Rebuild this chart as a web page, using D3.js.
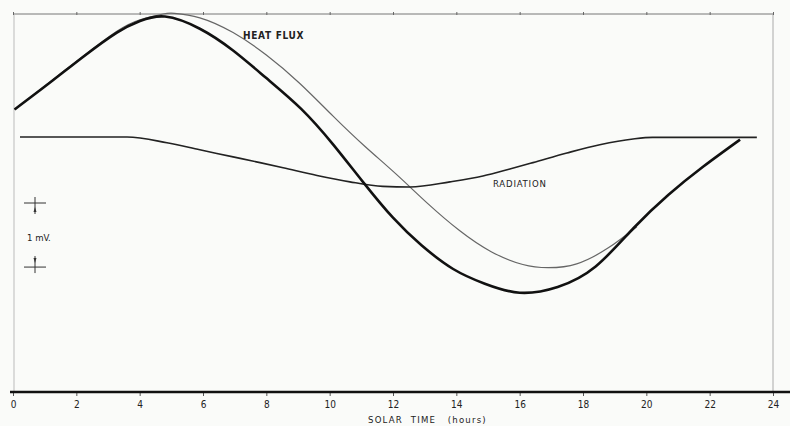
<!DOCTYPE html>
<html><head><meta charset="utf-8">
<script src="https://cdn.jsdelivr.net/npm/d3@7"></script>
<style>
html,body{margin:0;padding:0;background:#fafbf9;}
svg{display:block;}
text{font-family:"DejaVu Sans Condensed","DejaVu Sans",sans-serif;fill:#222;}
</style></head>
<body>
<script>
// X axis ticks (solar time, hours)
const xTicks = [0,2,4,6,8,10,12,14,16,18,20,22,24];
// Thick heat-flux trace: [hour, mV above baseline]
const heatFluxHours = [0.05,1.17,2.21,3.28,4.01,4.80,5.90,6.95,8.0,9.10,10.10,11.05,12.00,12.90,13.90,14.90,16.0,17.20,18.40,19.60,20.70,21.80,22.96];
const heatFluxMV   = [4.41,4.83,5.23,5.61,5.79,5.86,5.67,5.33,4.90,4.42,3.87,3.28,2.72,2.29,1.92,1.69,1.55,1.64,1.96,2.56,3.08,3.52,3.94];
// Thin heat-flux trace
const heatFlux2Hours = [0.05,1.17,2.21,3.28,4.01,4.74,5.10,5.90,6.95,8.0,9.05,10.10,11.10,12.10,13.10,14.10,15.10,16.10,16.90,17.80,18.80,19.70];
const heatFlux2MV   = [4.41,4.84,5.24,5.63,5.81,5.90,5.91,5.84,5.61,5.26,4.82,4.31,3.84,3.40,2.94,2.52,2.19,1.99,1.94,2.00,2.25,2.58];
// Radiation trace
const radiationHours = [0.22,3.60,4.86,5.90,6.95,7.80,8.53,9.60,10.64,11.68,12.54,13.80,14.84,15.69,16.42,17.49,18.53,19.58,20.20,23.49];
const radiationMV   = [3.98,3.98,3.89,3.78,3.67,3.58,3.50,3.38,3.28,3.21,3.20,3.28,3.37,3.48,3.58,3.73,3.86,3.95,3.975,3.975];

const W = 790, H = 426;
const svg = d3.select("body").append("svg").attr("width", W).attr("height", H);

const x = d3.scaleLinear().domain([0, 24]).range([13, 773]);
const y = d3.scaleLinear().domain([0, 5.9]).range([392, 14]);

// frame
svg.append("line").attr("x1", 13).attr("x2", 773).attr("y1", y(5.9)).attr("y2", y(5.9))
  .attr("stroke", "#777").attr("stroke-width", 1);
svg.append("line").attr("x1", 14).attr("x2", 14).attr("y1", 14).attr("y2", 392)
  .attr("stroke", "#bbb").attr("stroke-width", 1);
svg.append("line").attr("x1", 773).attr("x2", 773).attr("y1", 14).attr("y2", 392)
  .attr("stroke", "#aaa").attr("stroke-width", 1);

// top ticks
const topAxis = d3.axisTop(x).tickValues(xTicks).tickSize(3).tickFormat("");
svg.append("g").attr("transform", "translate(0,15)").call(topAxis)
  .call(g => g.select(".domain").remove())
  .selectAll("line").attr("stroke", "#666");

// bottom axis
const bottomAxis = d3.axisBottom(x).tickValues(xTicks).tickSize(4).tickPadding(5).tickFormat(d3.format("d"));
const gb = svg.append("g").attr("transform", "translate(0,392)").call(bottomAxis);
gb.select(".domain").remove();
gb.selectAll("line").attr("stroke", "#555");
gb.selectAll("text").attr("font-size", 10).style("fill", "#222");
svg.append("line").attr("x1", 10).attr("x2", 790).attr("y1", 392).attr("y2", 392)
  .attr("stroke", "#111").attr("stroke-width", 2.6);

svg.append("text").attr("x", 368).attr("y", 423).attr("font-size", 9.5)
  .attr("letter-spacing", 1.2).attr("xml:space", "preserve").text("SOLAR  TIME   (hours)");

const smooth = d3.line().x(d => x(d[0])).y(d => y(d[1])).curve(d3.curveNatural);
const mono = d3.line().x(d => x(d[0])).y(d => y(d[1])).curve(d3.curveMonotoneX);

svg.append("path").datum(d3.zip(heatFlux2Hours, heatFlux2MV)).attr("d", smooth)
  .attr("fill", "none").attr("stroke", "#666").attr("stroke-width", 1.2);
svg.append("path").datum(d3.zip(radiationHours, radiationMV)).attr("d", mono)
  .attr("fill", "none").attr("stroke", "#222").attr("stroke-width", 1.6);
svg.append("path").datum(d3.zip(heatFluxHours, heatFluxMV)).attr("d", smooth)
  .attr("fill", "none").attr("stroke", "#111").attr("stroke-width", 2.6);

svg.append("text").attr("x", 243).attr("y", 39).attr("font-size", 10).attr("font-weight", 600)
  .attr("letter-spacing", 0.7).text("HEAT FLUX");
svg.append("text").attr("x", 493).attr("y", 187).attr("font-size", 9.5)
  .attr("letter-spacing", 0.8).text("RADIATION");

// 1 mV scale bar
const sb = svg.append("g").attr("stroke", "#333").attr("fill", "#333");
const top1 = 203, bot1 = top1 + (y(0) - y(1));
sb.append("line").attr("x1", 24).attr("x2", 46).attr("y1", top1).attr("y2", top1).attr("stroke-width", 1);
sb.append("line").attr("x1", 24).attr("x2", 46).attr("y1", bot1).attr("y2", bot1).attr("stroke-width", 1);
sb.append("line").attr("x1", 35).attr("x2", 35).attr("y1", top1 - 6).attr("y2", top1 + 11).attr("stroke-width", 1);
sb.append("line").attr("x1", 35).attr("x2", 35).attr("y1", bot1 - 11).attr("y2", bot1 + 6).attr("stroke-width", 1);
sb.append("path").attr("d", `M33.5,${top1+9} L35,${top1+4} L36.5,${top1+9} Z`).attr("stroke", "none");
sb.append("path").attr("d", `M33.5,${bot1-9} L35,${bot1-4} L36.5,${bot1-9} Z`).attr("stroke", "none");
svg.append("text").attr("x", 27).attr("y", 241).attr("font-size", 9.5).text("1 mV.");
</script>
</body></html>
